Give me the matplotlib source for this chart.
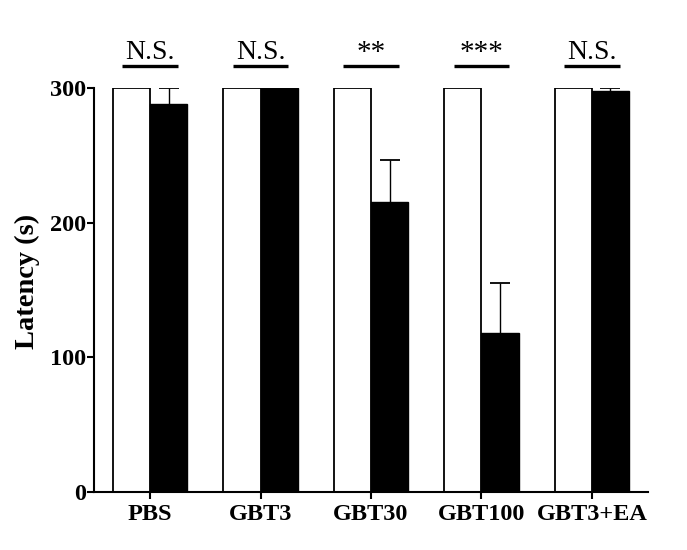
import matplotlib
matplotlib.use("Agg")
import matplotlib.pyplot as plt
import numpy as np

categories = ["PBS", "GBT3", "GBT30", "GBT100", "GBT3+EA"]
control_values = [300, 300, 300, 300, 300]
treated_values = [288, 300, 215.5, 118, 297.5]
treated_err = [12, 0, 31, 37.5, 2.5]
sig_labels = ["N.S.", "N.S.", "**", "***", "N.S."]

plt.rcParams["font.family"] = ["Liberation Serif", "DejaVu Serif"]

fig = plt.figure(figsize=(6.87, 5.5), dpi=100)
ax = fig.add_axes([94 / 687, 1 - 492 / 550, (648 - 94) / 687, (492 - 88) / 550])

x = np.arange(len(categories))
w = 0.335
ax.bar(x - w / 2, control_values, width=w, color="white", edgecolor="black", linewidth=1.3, zorder=2)
ax.bar(x + w / 2, treated_values, width=w, color="black", edgecolor="black", linewidth=1.0, zorder=2)
eb = ax.errorbar(x + w / 2, treated_values, yerr=[np.zeros(len(x)), treated_err], fmt="none",
                 ecolor="black", elinewidth=1.0, capsize=7, capthick=1.3, zorder=1)
# hide the lower caps (one-sided error bars)
eb[1][0].set_visible(False)

ax.set_xlim(-0.507, 4.507)
ax.set_ylim(0, 300)
ax.set_yticks([0, 100, 200, 300])
ax.set_xticks(x)
ax.set_xticklabels(categories, fontweight="bold", fontsize=17.5)
for lab in ax.get_yticklabels():
    lab.set_fontweight("bold")
    lab.set_fontsize(17.5)
ax.tick_params(axis="y", length=5, width=1.5, pad=1)
ax.tick_params(axis="x", length=5, width=1.5, pad=4)
ax.set_ylabel("Latency (s)", fontweight="bold", fontsize=20.5)
ax.yaxis.set_label_coords(-0.097, 0.52)

for s in ["top", "right"]:
    ax.spines[s].set_visible(False)
for s in ["left", "bottom"]:
    ax.spines[s].set_linewidth(1.5)

for i, lab in enumerate(sig_labels):
    ax.plot([i - 0.25, i + 0.25], [316, 316], color="black", linewidth=2.4,
            clip_on=False, solid_capstyle="butt")
    if lab == "N.S.":
        ax.text(i, 321.5, lab, ha="center", va="baseline", fontsize=20, clip_on=False)
    else:
        ax.text(i, 320.5, lab, ha="center", va="baseline", fontsize=21, clip_on=False)

fig.savefig("out.png", dpi=100)
